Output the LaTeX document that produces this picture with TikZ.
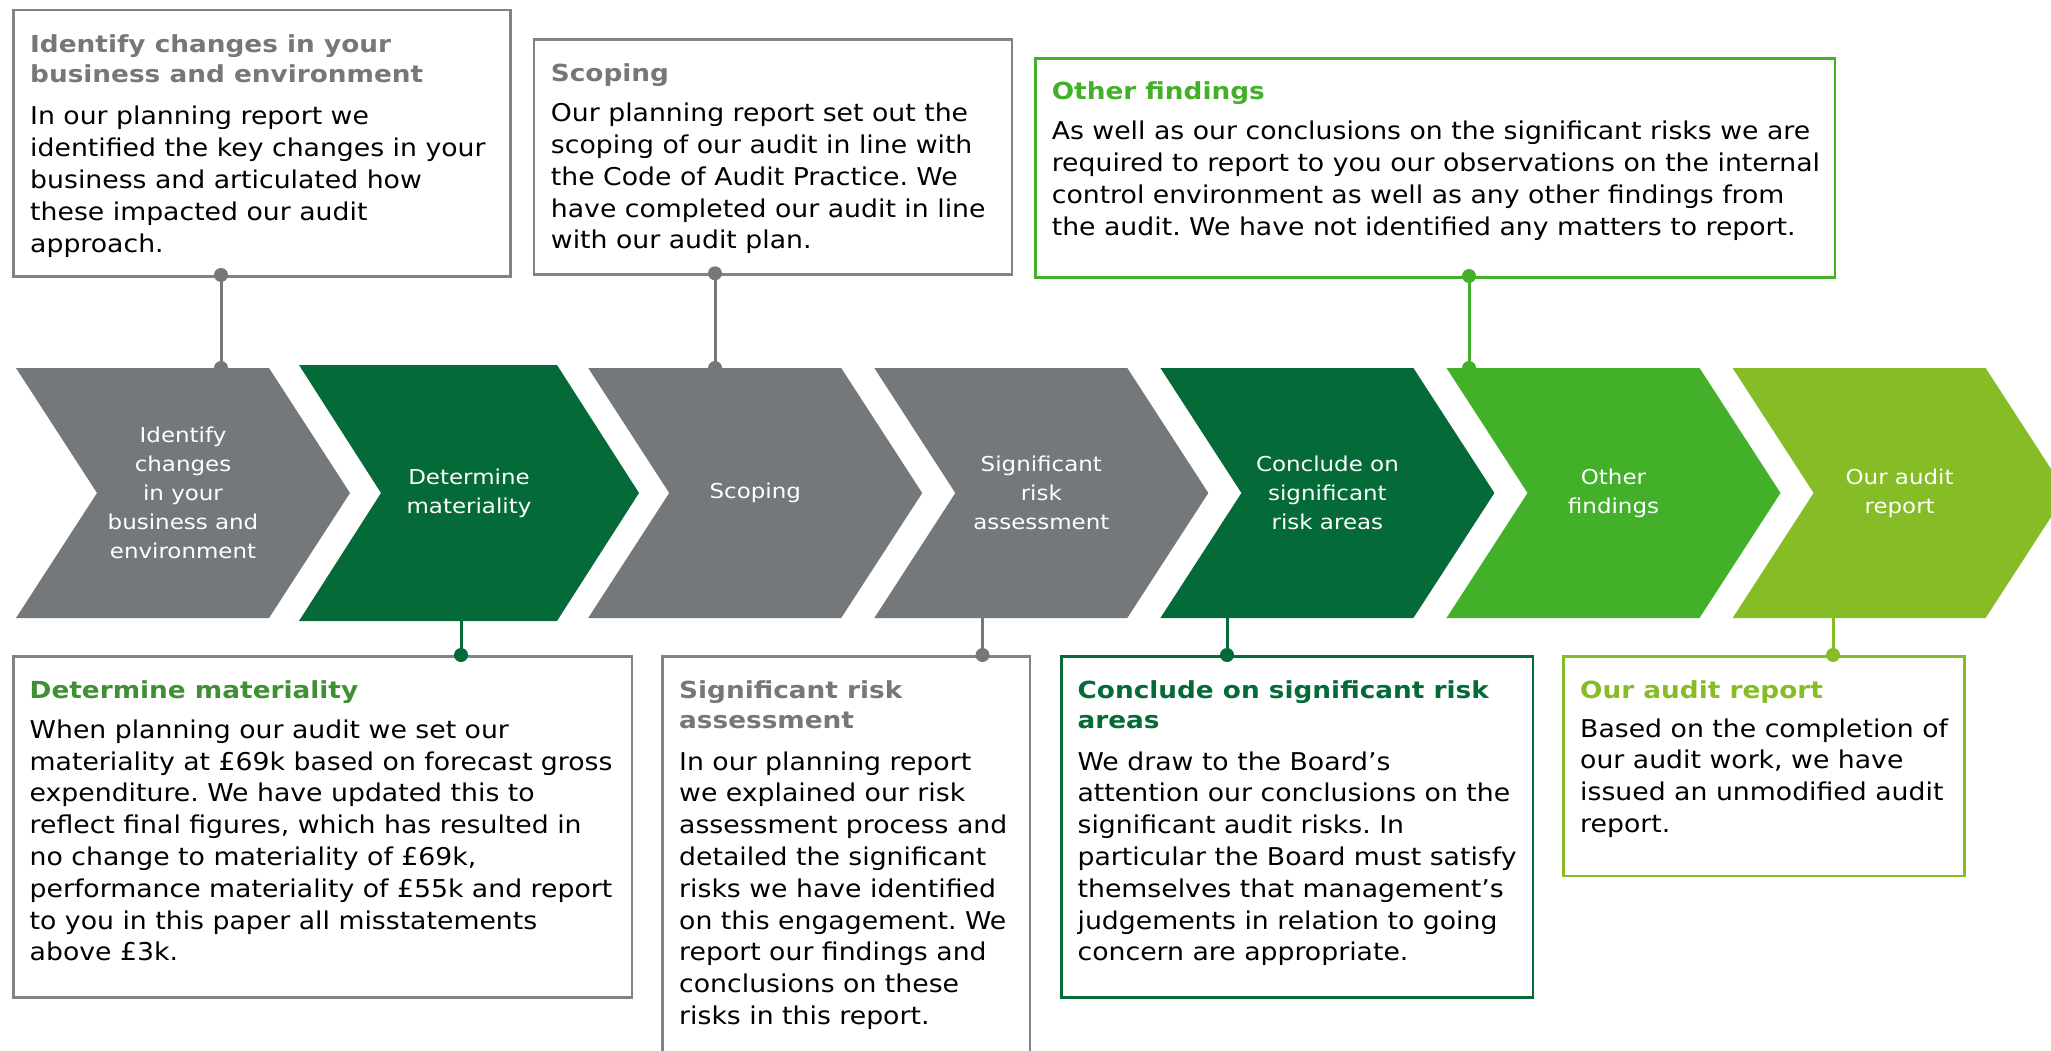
\documentclass[tikz,border=0pt]{standalone}
\usepackage{fontspec}
\setmainfont{DejaVu Sans}
\newfontfamily\bodyfont{DejaVu Sans}[FakeStretch=1.09]
\newfontfamily\titlefont{DejaVu Sans}[FakeStretch=1.12]
\newfontfamily\chevfont{DejaVu Sans}[FakeStretch=1.12]
\definecolor{cgray}{HTML}{75787B}
\definecolor{cframe}{HTML}{808285}
\definecolor{cdark}{HTML}{046A38}
\definecolor{cbright}{HTML}{43B02A}
\definecolor{clime}{HTML}{86BC25}
\definecolor{cmid}{HTML}{3F8F35}
\tikzset{
  chevlabel/.style={text=white, font=\chevfont\fontsize{20.5}{29}\selectfont, align=center, inner sep=0pt},
  boxframe/.style={draw=#1, line width=2.5pt, inner sep=0pt, anchor=north west},
  % anchor base = baseline of the LAST line of the node
  boxtitle/.style={text=#1, font=\titlefont\bfseries\fontsize{23.5}{30}\selectfont, align=left, anchor=base west, inner sep=0pt},
  boxbody/.style={text=black, font=\bodyfont\fontsize{24.5}{31.8}\selectfont, align=left, anchor=base west, inner sep=0pt},
  conn/.style={draw=#1, line width=3pt},
  dot/.style={circle, fill=#1, draw=none, inner sep=0pt, minimum size=14pt}
}
\begin{document}
\frenchspacing
\begin{tikzpicture}[x=1pt,y=-1pt]
\useasboundingbox (0,0) rectangle (2051,1051);
\clip (0,0) rectangle (2051,1051);
\fill[white] (0,0) rectangle (2051,1051);

% chevrons
\fill[cgray]   (16,368) -- (269,368) -- (350,493) -- (269,618) -- (16,618) -- (97,493) -- cycle;
\fill[cdark]   (299,365) -- (557,365) -- (639,493) -- (557,621) -- (299,621) -- (381,493) -- cycle;
\fill[cgray]   (588.2,368) -- (841.2,368) -- (922.2,493) -- (841.2,618) -- (588.2,618) -- (669.2,493) -- cycle;
\fill[cgray]   (874.3,368) -- (1127.3,368) -- (1208.3,493) -- (1127.3,618) -- (874.3,618) -- (955.3,493) -- cycle;
\fill[cdark]   (1160.4,368) -- (1413.4,368) -- (1494.4,493) -- (1413.4,618) -- (1160.4,618) -- (1241.4,493) -- cycle;
\fill[cbright] (1446.5,368) -- (1699.5,368) -- (1780.5,493) -- (1699.5,618) -- (1446.5,618) -- (1527.5,493) -- cycle;
\fill[clime]   (1732.6,368) -- (1985.6,368) -- (2066.6,493) -- (1985.6,618) -- (1732.6,618) -- (1813.6,493) -- cycle;

\node[chevlabel] (c1) at (183,493) {Identify\\changes\\in your\\business and\\environment};
\node[chevlabel] (c2) at (469,493) {Determine\\materiality};
\node[chevlabel] (c3) at (755.2,493) {Scoping};
\node[chevlabel] (c4) at (1041.3,493) {Significant\\risk\\assessment};
\node[chevlabel] (c5) at (1327.4,493) {Conclude on\\significant\\risk areas};
\node[chevlabel] (c6) at (1613.5,493) {Other\\findings};
\node[chevlabel] (c7) at (1899.6,493) {Our audit\\report};

% top boxes
\node[boxframe=cframe, minimum width=497pt, minimum height=266pt] (b1) at (12,9) {};
\node[boxtitle=cgray] (b1t) at (30,83) {Identify changes in your\\business and environment};
\node[boxbody] (b1b) at (30,252.2) {In our planning report we\\identified the key changes in your\\business and articulated how\\these impacted our audit\\approach.};

\node[boxframe=cframe, minimum width=478pt, minimum height=235pt] (b2) at (532.7,38.3) {};
\node[boxtitle=cgray] (b2t) at (550.7,81.7) {Scoping};
\node[boxbody] (b2b) at (550.7,248.9) {Our planning report set out the\\scoping of our audit in line with\\the Code of Audit Practice. We\\have completed our audit in line\\with our audit plan.};

\node[boxframe=cbright, minimum width=799.5pt, minimum height=218.5pt] (b3) at (1034,57.5) {};
\node[boxtitle=cbright] (b3t) at (1051.6,100) {Other findings};
\node[boxbody] (b3b) at (1051.6,235.4) {As well as our conclusions on the significant risks we are\\required to report to you our observations on the internal\\control environment as well as any other findings from\\the audit. We have not identified any matters to report.};

% bottom boxes
\node[boxframe=cframe, minimum width=618.5pt, minimum height=341pt] (b4) at (12,655) {};
\node[boxtitle=cmid] (b4t) at (29.5,698.3) {Determine materiality};
\node[boxbody] (b4b) at (29.5,960.9) {When planning our audit we set our\\materiality at £69k based on forecast gross\\expenditure. We have updated this to\\reflect final figures, which has resulted in\\no change to materiality of £69k,\\performance materiality of £55k and report\\to you in this paper all misstatements\\above £3k.};

\node[boxframe=cframe, minimum width=367.5pt, minimum height=420pt] (b5) at (661,655) {};
\node[boxtitle=cgray] (b5t) at (679,728) {Significant risk\\assessment};
\node[boxbody] (b5b) at (679,1024.4) {In our planning report\\we explained our risk\\assessment process and\\detailed the significant\\risks we have identified\\on this engagement. We\\report our findings and\\conclusions on these\\risks in this report.};

\node[boxframe=cdark, minimum width=471.5pt, minimum height=341pt] (b6) at (1060,655) {};
\node[boxtitle=cdark] (b6t) at (1077.4,728) {Conclude on significant risk\\areas};
\node[boxbody] (b6b) at (1077.4,960.8) {We draw to the Board’s\\attention our conclusions on the\\significant audit risks. In\\particular the Board must satisfy\\themselves that management’s\\judgements in relation to going\\concern are appropriate.};

\node[boxframe=clime, minimum width=401pt, minimum height=219.5pt] (b7) at (1562,655) {};
\node[boxtitle=clime] (b7t) at (1580,698) {Our audit report};
\node[boxbody] (b7b) at (1580,832.4) {Based on the completion of\\our audit work, we have\\issued an unmodified audit\\report.};

% connector end points
\coordinate (p1a) at (221,275);   \coordinate (p1b) at (221,368);
\coordinate (p2a) at (715,273.3); \coordinate (p2b) at (715,368);
\coordinate (p3a) at (1469,276);  \coordinate (p3b) at (1469,368);
\coordinate (p4a) at (461,621);   \coordinate (p4b) at (461,655);
\coordinate (p5a) at (982.5,618); \coordinate (p5b) at (982.5,655);
\coordinate (p6a) at (1227,618);  \coordinate (p6b) at (1227,655);
\coordinate (p7a) at (1833,618);  \coordinate (p7b) at (1833,655);

\draw[conn=cgray]   (p1a) -- (p1b);
\draw[conn=cgray]   (p2a) -- (p2b);
\draw[conn=cbright] (p3a) -- (p3b);
\draw[conn=cdark]   (p4a) -- (p4b);
\draw[conn=cgray]   (p5a) -- (p5b);
\draw[conn=cdark]   (p6a) -- (p6b);
\draw[conn=clime]   (p7a) -- (p7b);

\node[dot=cgray]   (d1a) at (p1a) {};
\node[dot=cgray]   (d1b) at (p1b) {};
\node[dot=cgray]   (d2a) at (p2a) {};
\node[dot=cgray]   (d2b) at (p2b) {};
\node[dot=cbright] (d3a) at (p3a) {};
\node[dot=cbright] (d3b) at (p3b) {};
\node[dot=cdark]   (d4)  at (p4b) {};
\node[dot=cgray]   (d5)  at (p5b) {};
\node[dot=cdark]   (d6)  at (p6b) {};
\node[dot=clime]   (d7)  at (p7b) {};
\end{tikzpicture}
\end{document}
